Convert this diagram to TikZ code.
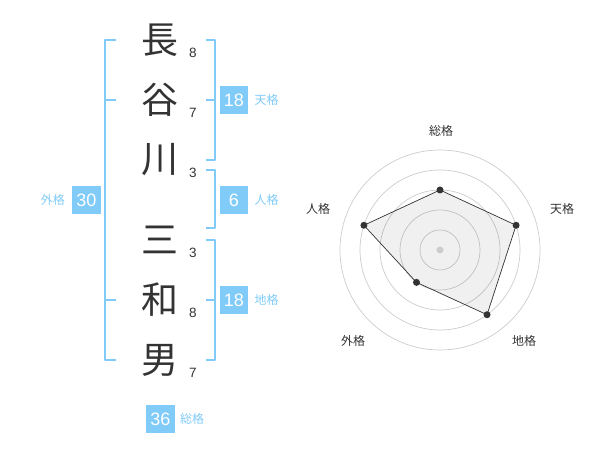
\documentclass[tikz,border=0pt]{standalone}
\usepackage{fontspec}
\setmainfont{Liberation Sans}
\newfontfamily\jp{Noto Sans CJK JP}
\usetikzlibrary{positioning}
\definecolor{kakublue}{HTML}{80CBF8}
\definecolor{kakutext}{HTML}{333333}
\definecolor{radargray}{HTML}{CCCCCC}
\tikzset{
  kanji/.style={font=\jp\fontsize{37}{37}\selectfont,text=kakutext,inner sep=0pt},
  kakusu/.style={font=\fontsize{13.5}{13.5}\selectfont,text=kakutext,inner sep=0pt},
  kakubox/.style={fill=kakublue,text=white,font=\fontsize{18}{18}\selectfont,
    minimum width=28.5pt,minimum height=28pt,inner sep=0pt},
  kakulabel/.style={font=\jp\fontsize{12}{12}\selectfont,text=kakublue,inner sep=0pt},
  kakuline/.style={draw=kakublue,line width=2pt},
  axislabel/.style={font=\jp\fontsize{12}{12}\selectfont,text=kakutext,inner sep=0pt},
}
\begin{document}
\begin{tikzpicture}[x=1pt,y=-1pt,line join=round]
\useasboundingbox (0,0) rectangle (600,470);
% 名前と画数
\foreach \ch/\n/\y [count=\i] in {長/8/40,谷/7/100,川/3/160,三/3/240,和/8/300,男/7/360}{
  \node[kanji] (c\i) at (160,\y) {\ch};
  \node[kakusu] (n\i) at (193,\y+13) {\n};
}
% 括弧
\coordinate (gai) at (105,0);
\coordinate (migi) at (214.5,0);
\draw[kakuline] ([xshift=11pt]gai |- c1) -- (gai |- c1) -- (gai |- c6) -- ++(11,0);
\draw[kakuline] (gai |- c2) -- ++(11,0) (gai |- c5) -- ++(11,0);
\draw[kakuline] ([xshift=-9pt]migi |- c1) -- (migi |- c1) -- (migi |- c3) -- ++(-9,0)
  (migi |- c2) -- ++(-9,0);
\draw[kakuline] ([shift={(-9,10)}]migi |- c3) -- ([shift={(0,10)}]migi |- c3)
  -- ([shift={(0,-12)}]migi |- c4) -- ++(-9,0);
\draw[kakuline] ([xshift=-9pt]migi |- c4) -- (migi |- c4) -- (migi |- c6) -- ++(-9,0)
  (migi |- c5) -- ++(-9,0);
% 五格
\node[kakubox] (tenkaku) at (234,100) {18};
\node[kakulabel,right=6pt of tenkaku] (tenkakul) {天格};
\node[kakubox] (jinkaku) at (234,200) {6};
\node[kakulabel,right=6pt of jinkaku] (jinkakul) {人格};
\node[kakubox] (chikaku) at (234,300) {18};
\node[kakulabel,right=6pt of chikaku] (chikakul) {地格};
\node[kakubox] (gaikaku) at (86.5,200) {30};
\node[kakulabel,left=7pt of gaikaku] (gaikakul) {外格};
\node[kakubox] (soukaku) at (160.5,419) {36};
\node[kakulabel,right=5pt of soukaku] (soukakul) {総格};
% レーダー
\coordinate (o) at (440,250);
\foreach \r in {20,40,...,100} \draw[radargray,line width=.7pt] (o) circle (\r);
\foreach \a/\v/\t/\lx/\ly [count=\i] in {-90/60/総格/441/131,-18/80/天格/562/209,
  54/80/地格/524/341,126/40/外格/353/341,198/80/人格/318/209}{
  \coordinate (p\i) at ([shift={(\a:\v)}]o);
  \node[axislabel] (ax\i) at (\lx,\ly) {\t};
}
\fill[black,opacity=.06] (p1) -- (p2) -- (p3) -- (p4) -- (p5) -- cycle;
\draw[kakutext,line width=.7pt] (p1) -- (p2) -- (p3) -- (p4) -- (p5) -- cycle;
\foreach \i in {1,...,5}\fill[kakutext] (p\i) circle (3.5);
\fill[radargray] (o) circle (3.5);
\end{tikzpicture}
\end{document}
